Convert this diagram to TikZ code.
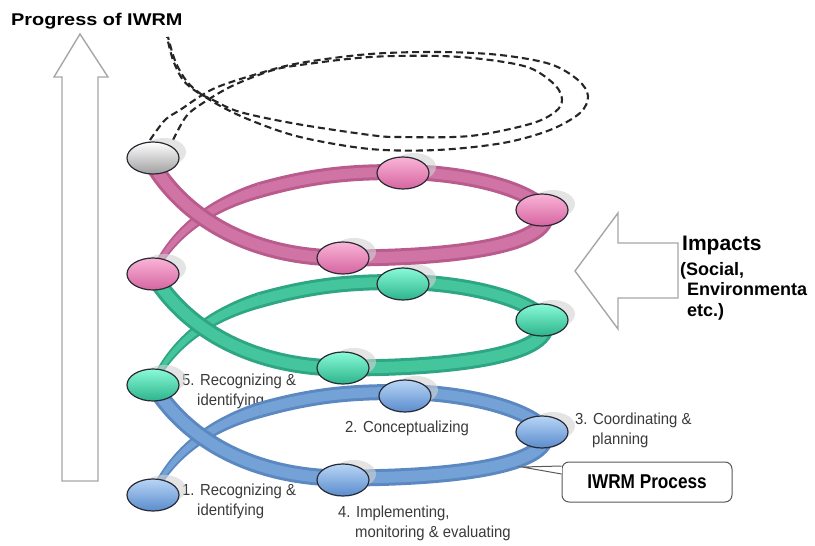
\documentclass[tikz,border=0pt]{standalone}
\usepackage{fontspec}
\setmainfont{Liberation Sans}
\newfontfamily\lblfont[FakeStretch=0.93]{Liberation Sans}
\newfontfamily\nbfont[FakeStretch=0.86]{Liberation Sans}
\newfontfamily\wdfont[FakeStretch=1.17]{Liberation Sans}
\usetikzlibrary{shapes.geometric,calc}

\definecolor{pinkD}{HTML}{B95B8D}
\definecolor{pinkM}{HTML}{D074A5}
\definecolor{pinkT}{HTML}{FAB4D7}
\definecolor{pinkB}{HTML}{D564A0}
\definecolor{greenD}{HTML}{2FA683}
\definecolor{greenM}{HTML}{45C59C}
\definecolor{greenT}{HTML}{88FAD6}
\definecolor{greenB}{HTML}{2CB48C}
\definecolor{blueD}{HTML}{5C88C2}
\definecolor{blueM}{HTML}{74A1D6}
\definecolor{blueT}{HTML}{B8D5F6}
\definecolor{blueB}{HTML}{5A8CCD}
\definecolor{beadline}{HTML}{2A2A35}
\definecolor{lbl}{HTML}{3A3A3A}

\tikzset{
  bead/.style={ellipse, minimum width=52pt, minimum height=32pt, inner sep=0pt,
    draw=beadline, line width=1.2pt},
  pinkbead/.style={bead, top color=pinkT, bottom color=pinkB},
  greenbead/.style={bead, top color=greenT, bottom color=greenB},
  bluebead/.style={bead, top color=blueT, bottom color=blueB},
  graybead/.style={bead, top color=white, bottom color=gray!75},
  blob/.style={fill=gray!35, opacity=0.6},
  lbltext/.style={font=\lblfont\fontsize{16}{20}\selectfont, text=lbl, inner sep=0pt, align=left},
  dashloop/.style={draw=black!85, line width=2.1pt, dash pattern=on 7pt off 4pt},
  hollowarrow/.style={draw=gray!70, line width=1.4pt, fill=white, line join=miter},
}

% one turn of the helix band; #1 dark colour, #2 main colour, #3 vertical shift
\newcommand{\helixloop}[3]{%
\begin{scope}[shift={(0,#3)}]
  % tapered start of the back arc
  \fill[#1] (150.33,381.63) .. controls (166.5,346.92) and (196.83,312.49) .. (257.7,292.34)
     -- (262.3,307.66) .. controls (203.17,323.51) and (173.5,353.08) .. (155.67,384.37) -- cycle;
  \fill[#2] (151.67,382.31) .. controls (168,348.24) and (198.08,314.67) .. (258.56,295.21)
     -- (261.44,304.79) .. controls (201.92,321.33) and (172,351.76) .. (154.33,383.69) -- cycle;
  % back arc
  \draw[#1, line width=16pt] (260,300) .. controls (320,283) and (360,282) .. (403,282)
     .. controls (470,283) and (530,300) .. (545,320);
  \draw[#2, line width=10pt] (260,300) .. controls (320,283) and (360,282) .. (403,282)
     .. controls (470,283) and (530,300) .. (545,320);
  % front arc
  \draw[#1, line width=17pt] (545,320) .. controls (555,352) and (470,368) .. (343,368)
     .. controls (260,368) and (190,335) .. (153,275);
  \draw[#2, line width=11pt] (545,320) .. controls (555,352) and (470,368) .. (343,368)
     .. controls (260,368) and (190,335) .. (153,275);
\end{scope}}

% bead with its grey halo; #1 style, #2 name, #3 x, #4 y
\newcommand{\beadat}[4]{%
  \fill[blob] (#3+11,#4-6) ellipse [x radius=22pt, y radius=14pt];
  \node[#1] (#2) at (#3,#4) {};}

\begin{document}
\begin{tikzpicture}[x=1pt, y=-1pt]
\useasboundingbox (0,0) rectangle (815,546);

% progress arrow and title
\draw[hollowarrow] (80,34) -- (108,77) -- (98,77) -- (98,481) -- (62,481) -- (62,77) -- (54,77) -- cycle;
\node[anchor=base west, inner sep=0pt, font=\wdfont\bfseries\fontsize{17}{20}\selectfont] (title) at (11,25) {Progress of IWRM};

% step labels (anchor = baseline of the last line)
\node[lbltext, anchor=base west] (l1) at (182,515) {1. Recognizing \&\\\hspace*{15pt}identifying};
\node[lbltext, anchor=base west] (l5) at (182,405) {5. Recognizing \&\\\hspace*{15pt}identifying};
\node[lbltext, anchor=base west] (l2) at (345,432) {2. Conceptualizing};
\node[lbltext, anchor=base west] (l3) at (575,444) {3. Coordinating \&\\\hspace*{17pt}planning};
\node[lbltext, anchor=base west] (l4) at (338,537) {4. Implementing,\\\hspace*{17pt}monitoring \& evaluating};

% blue turn
\helixloop{blueD}{blueM}{110}
\beadat{bluebead}{b1}{153}{495}
\beadat{bluebead}{b2}{405}{396}
\beadat{bluebead}{b3}{542}{432}
\beadat{bluebead}{b4}{343}{480}

% green turn
\helixloop{greenD}{greenM}{0}
\beadat{greenbead}{g1}{153}{385}
\beadat{greenbead}{g2}{403}{284}
\beadat{greenbead}{g3}{542}{320}
\beadat{greenbead}{g4}{343}{368}

% pink turn
\helixloop{pinkD}{pinkM}{-110}
\beadat{pinkbead}{p1}{153}{274}
\beadat{pinkbead}{p2}{403}{173}
\beadat{pinkbead}{p3}{542}{210}
\beadat{pinkbead}{p4}{343}{258}

% future turn (dashed)
\draw[dashloop] plot[smooth, tension=0.55] coordinates {(150,140) (165,120) (180,110) (213,89) (257,74) (300,63) (370,54) (440,52) (500,55) (550,64) (578,80) (588,96) (580,113) (550,130) (503,143) (437,150) (370,149) (300,137) (250,120) (215,103) (190,85) (176,63) (168,37)};
\draw[dashloop] plot[smooth, tension=0.55] coordinates {(173,140) (185,118) (197,107) (230,87) (270,71) (300,65) (370,57) (440,56) (490,60) (530,68) (555,85) (562,100) (555,112) (530,124) (470,136) (400,137) (370,135) (297,124) (240,112) (213,100) (197,92) (183,80) (173,60) (167,37)};

\beadat{graybead}{w1}{153}{158}

% impacts arrow
\draw[hollowarrow] (678,243) -- (618,243) -- (618,213) -- (575,271) -- (618,329) -- (618,298) -- (678,298) -- cycle;
\node[anchor=base west, inner sep=0pt, font=\bfseries\fontsize{21}{24}\selectfont] (imp) at (682,250) {Impacts};
\node[anchor=base west, inner sep=0pt, align=left, font=\bfseries\fontsize{18}{20.5}\selectfont] (impsub) at (680,316) {(Social,\\\hspace*{7pt}Environmenta\\\hspace*{7pt}etc.)};

% IWRM Process callout
\node[draw=black!65, line width=1pt, rounded corners=7pt, fill=white, minimum width=170pt, minimum height=40pt,
      font=\nbfont\bfseries\fontsize{20}{24}\selectfont] (iwrm) at (647,482) {IWRM Process};
\coordinate (ptip) at (522,467);
\coordinate (pa) at ($(iwrm.west)+(0,-16)$);
\coordinate (pb) at ($(iwrm.west)+(0,-8)$);
\fill[white] (pa) -- (ptip) -- (pb) -- cycle;
\draw[white, line width=1.6pt] ($(pa)+(0,0.8)$) -- ($(pb)+(0,-0.8)$);
\draw[black!65, line width=1pt] (pa) -- (ptip) -- (pb);
\end{tikzpicture}
\end{document}
